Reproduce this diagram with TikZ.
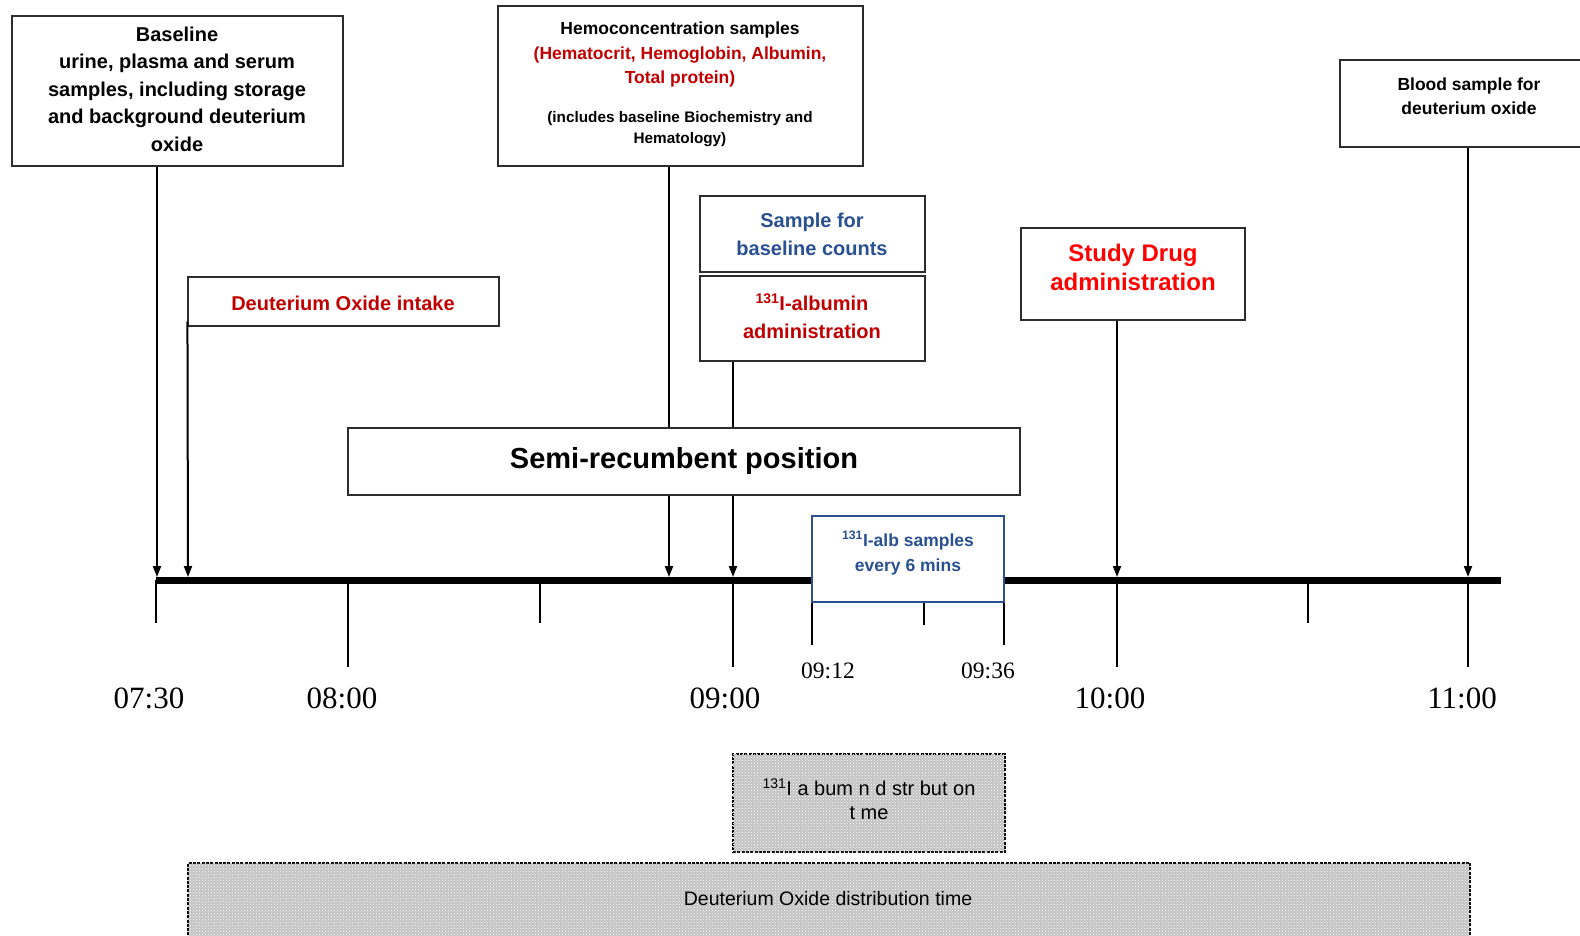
\documentclass[tikz,border=0pt]{standalone}
\usepackage{fontspec}
\setmainfont{Liberation Sans}
\newfontfamily\timefont{Liberation Serif}
\usetikzlibrary{arrows.meta,patterns}
\definecolor{darkred}{RGB}{192,0,0}
\definecolor{brightred}{RGB}{255,0,0}
\definecolor{navy}{RGB}{41,80,145}
\definecolor{frame}{RGB}{45,45,45}
\newcommand\fsz[2]{\fontsize{#1}{#2}\selectfont}

\begin{document}
\begin{tikzpicture}[x=1pt,y=-1pt,
  box/.style={draw=frame, line width=1.1pt, fill=white, rectangle, inner sep=0pt},
  bluebox/.style={box, draw=navy},
  txt/.style={align=center, inner sep=0pt, font=\bfseries},
  arr/.style={line width=2pt, -{Triangle[length=11pt,width=8pt]}},
  tickline/.style={line width=1.1pt},
  timelabel/.style={font=\timefont\fsz{31}{31}, inner sep=0pt},
  smalltime/.style={font=\timefont\fsz{23.5}{23.5}, inner sep=0pt},
  distbox/.style={draw=black, line width=2.2pt, dash pattern=on 3pt off 1.3pt,
    fill=black!24, postaction={pattern=crosshatch dots, pattern color=white},
    rectangle, inner sep=0pt},
]
\useasboundingbox (0,0) rectangle (1580,936);
\clip (0,0) rectangle (1580,936);

% positions on the time axis
\coordinate (h0730) at (156,580);
\coordinate (h0800) at (348,580);
\coordinate (h0830) at (540,580);
\coordinate (h0900) at (733,580);
\coordinate (h0912) at (812,580);
\coordinate (h0924) at (924,580);
\coordinate (h0936) at (1004,580);
\coordinate (h1000) at (1117,580);
\coordinate (h1030) at (1308,580);
\coordinate (h1100) at (1468,580);
\coordinate (axisL) at (156,580);
\coordinate (axisR) at (1501,580);

% arrow targets on top of the axis
\coordinate (e1) at (157,577);
\coordinate (e2) at (188,577);
\coordinate (e3) at (669,577);
\coordinate (e4) at (733,577);
\coordinate (e5) at (1117,577);
\coordinate (e6) at (1468,577);

% event boxes
\node[box, minimum width=331pt, minimum height=150pt] (base) at (177.5,91) {};
\node[box, minimum width=311pt, minimum height=49pt] (intake) at (343.5,301.5) {};
\node[box, minimum width=365pt, minimum height=160pt] (hemo) at (680.5,86) {};
\node[box, minimum width=225pt, minimum height=76pt] (counts) at (812.5,234) {};
\node[box, minimum width=225pt, minimum height=85pt] (alb) at (812.5,318.5) {};
\node[box, minimum width=224pt, minimum height=92pt] (drug) at (1133,274) {};
\node[box, minimum width=250pt, minimum height=87pt] (blood) at (1465,103.5) {};

% ticks below the axis
\draw[tickline] (h0730) -- ++(0,43);
\draw[tickline] (h0800) -- ++(0,87);
\draw[tickline] (h0830) -- ++(0,43);
\draw[tickline] (h0900) -- ++(0,87);
\draw[tickline] (h0912) -- ++(0,65);
\draw[tickline] (h0924) -- ++(0,45);
\draw[tickline] (h0936) -- ++(0,65);
\draw[tickline] (h1000) -- ++(0,87);
\draw[tickline] (h1030) -- ++(0,43);
\draw[tickline] (h1100) -- ++(0,87);

% time axis
\draw[line width=7pt] (axisL) -- (axisR);

% event arrows
\draw[arr] (base.south -| e1) -- (e1);
\draw[arr] ([yshift=5pt]intake.south west) -- (e2);
\draw[arr] (hemo.south -| e3) -- (e3);
\draw[arr] (alb.south -| e4) -- (e4);
\draw[arr] (drug.south -| e5) -- (e5);
\draw[arr] (blood.south -| e6) -- (e6);

% position band and sampling window
\node[box, minimum width=672pt, minimum height=67pt] (semi) at (684,461.5) {};
\node[bluebox, minimum width=192pt, minimum height=86pt] (samples) at (908,559) {};

% box texts
\node[txt, font=\bfseries\fsz{20}{27.5}] (baset) at (177,89)
  {Baseline\\urine, plasma and serum\\samples, including storage\\and background deuterium\\oxide};
\node[txt, font=\bfseries\fsz{20}{24}, text=darkred] (intaket) at (343,303) {Deuterium Oxide intake};
\node[txt, font=\bfseries\fsz{17.5}{24.5}] (hemot1) at (680,30) {Hemoconcentration samples};
\node[txt, font=\bfseries\fsz{17.5}{24.5}, text=darkred] (hemot2) at (680,67)
  {(Hematocrit, Hemoglobin, Albumin,\\Total protein)};
\node[txt, font=\bfseries\fsz{15.3}{21}] (hemot3) at (680,129.5)
  {(includes baseline Biochemistry and\\Hematology)};
\node[txt, font=\bfseries\fsz{20}{28}, text=navy] (countst) at (812,234) {Sample for\\baseline counts};
\node[txt, font=\bfseries\fsz{20}{28}, text=darkred] (albt) at (812,316)
  {\textsuperscript{131}I-albumin\\administration};
\node[txt, font=\bfseries\fsz{24}{29}, text=brightred] (drugt) at (1133,267) {Study Drug\\administration};
\node[txt, font=\bfseries\fsz{17.5}{24}] (bloodt) at (1469,96) {Blood sample for\\deuterium oxide};
\node[txt, font=\bfseries\fsz{29}{29}] (semit) at (684,461) {Semi-recumbent position};
\node[txt, font=\bfseries\fsz{17.5}{25}, text=navy] (samplest) at (908,553)
  {\textsuperscript{131}I-alb samples\\every 6 mins};

% time labels
\node[timelabel] (l0730) at (149,698) {07:30};
\node[timelabel] (l0800) at (342,698) {08:00};
\node[timelabel] (l0900) at (725,698) {09:00};
\node[timelabel] (l1000) at (1110,698) {10:00};
\node[timelabel] (l1100) at (1462,698) {11:00};
\node[smalltime] (l0912) at (828,671) {09:12};
\node[smalltime] (l0936) at (988,671) {09:36};

% distribution periods
\node[distbox, minimum width=272pt, minimum height=98pt] (albdist) at (869,803) {};
\node[txt, font=\fsz{20}{24}] (albdistt) at (869,799)
  {\textsuperscript{131}I a bum n d str but on\\t me};
\node[distbox, minimum width=1282pt, minimum height=110pt] (d2odist) at (829,918) {};
\node[txt, font=\fsz{19.5}{24}] (d2odistt) at (828,899) {Deuterium Oxide distribution time};
\end{tikzpicture}
\end{document}
